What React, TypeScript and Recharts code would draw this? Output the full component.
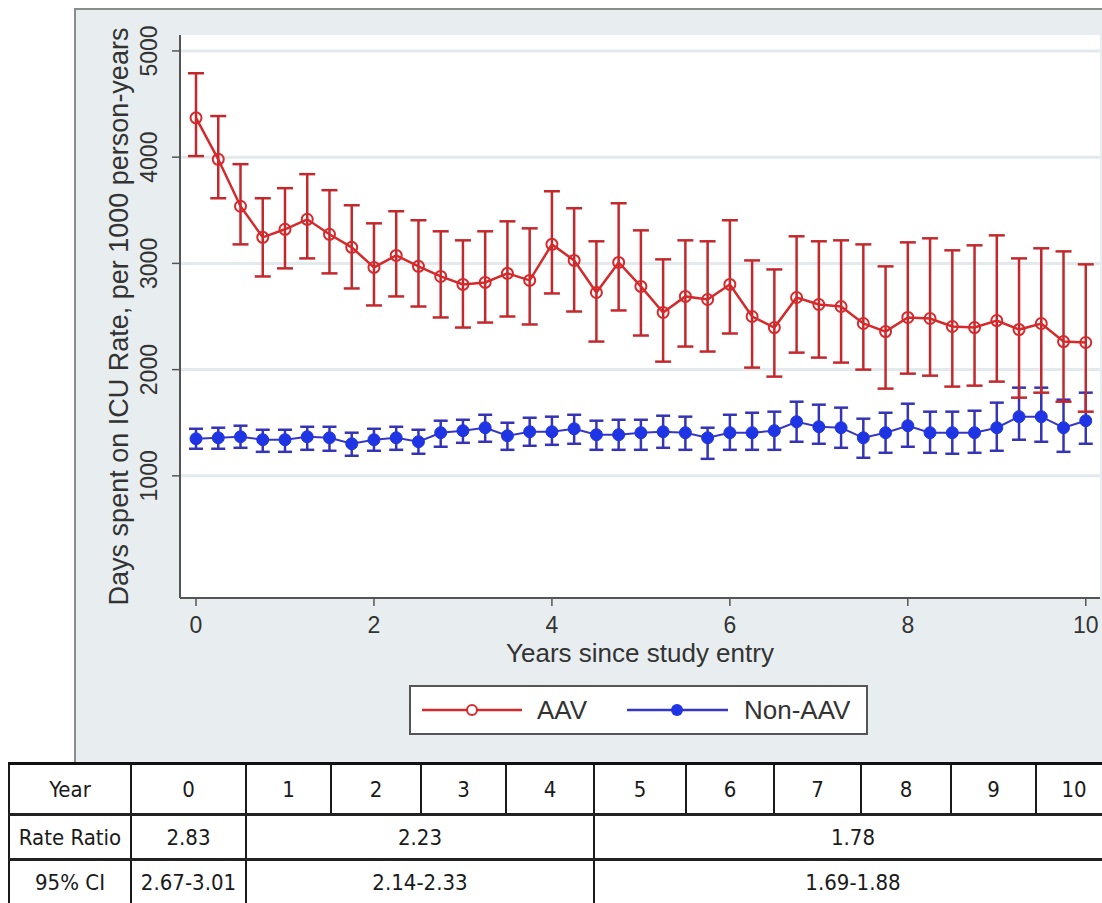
import React from 'react'
import { LineChart, Line, XAxis, YAxis, CartesianGrid, ErrorBar } from 'recharts'

// years since study entry, every quarter year
const years = [
  0, 0.25, 0.5, 0.75, 1, 1.25, 1.5, 1.75, 2, 2.25, 2.5, 2.75, 3, 3.25, 3.5, 3.75, 4, 4.25, 4.5, 4.75,
  5, 5.25, 5.5, 5.75, 6, 6.25, 6.5, 6.75, 7, 7.25, 7.5, 7.75, 8, 8.25, 8.5, 8.75, 9, 9.25, 9.5, 9.75, 10,
]

// AAV: rate and 95% CI
const aavRate = [
  4370, 3980, 3538, 3245, 3321, 3415, 3274, 3151, 2962, 3075, 2972, 2877, 2802, 2821, 2906, 2840, 3179, 3028, 2726, 3009,
  2783, 2538, 2689, 2660, 2802, 2500, 2396, 2679, 2613, 2594, 2434, 2358, 2491, 2481, 2406, 2396, 2462, 2377, 2434, 2264, 2255,
]
const aavLow = [
  4010, 3613, 3179, 2877, 2953, 3047, 2906, 2764, 2604, 2689, 2594, 2491, 2396, 2443, 2500, 2425, 2717, 2547, 2264, 2557,
  2321, 2075, 2217, 2170, 2340, 2019, 1934, 2160, 2113, 2066, 2000, 1821, 1962, 1943, 1840, 1849, 1887, 1736, 1783, 1698, 1604,
]
const aavHigh = [
  4790, 4387, 3934, 3613, 3708, 3840, 3689, 3547, 3377, 3491, 3406, 3302, 3217, 3302, 3396, 3330, 3679, 3519, 3208, 3566,
  3311, 3038, 3217, 3208, 3406, 3028, 2943, 3255, 3208, 3217, 3179, 2972, 3198, 3236, 3123, 3170, 3264, 3047, 3142, 3113, 2991,
]

// Non-AAV: rate and 95% CI
const nonRate = [
  1349, 1358, 1368, 1340, 1340, 1368, 1358, 1302, 1340, 1358, 1321, 1406, 1425, 1453, 1377, 1415, 1415, 1443, 1387, 1387,
  1406, 1415, 1406, 1358, 1406, 1406, 1425, 1509, 1462, 1453, 1358, 1406, 1472, 1406, 1406, 1406, 1453, 1557, 1557, 1453, 1519,
]
const nonLow = [
  1255, 1255, 1264, 1226, 1226, 1245, 1236, 1189, 1236, 1245, 1208, 1274, 1311, 1321, 1245, 1283, 1292, 1302, 1245, 1245,
  1245, 1264, 1245, 1160, 1245, 1245, 1245, 1321, 1302, 1264, 1170, 1217, 1274, 1217, 1208, 1217, 1236, 1340, 1321, 1226, 1302,
]
const nonHigh = [
  1443, 1453, 1472, 1434, 1434, 1462, 1462, 1406, 1443, 1462, 1434, 1519, 1528, 1575, 1500, 1547, 1557, 1575, 1519, 1528,
  1528, 1566, 1557, 1453, 1575, 1594, 1604, 1698, 1670, 1642, 1538, 1594, 1679, 1604, 1604, 1613, 1689, 1830, 1830, 1717, 1783,
]

const yTicks = [1000, 2000, 3000, 4000, 5000]
const xTicks = [0, 2, 4, 6, 8, 10]

// table under the chart
const tableYears = ['0', '1', '2', '3', '4', '5', '6', '7', '8', '9', '10']
const rateRatios = [
  { text: '2.83', span: 1 },
  { text: '2.23', span: 4 },
  { text: '1.78', span: 6 },
]
const rateCIs = [
  { text: '2.67-3.01', span: 1 },
  { text: '2.14-2.33', span: 4 },
  { text: '1.69-1.88', span: 6 },
]

const RED = '#d52a2c'
const RED_BAR = '#c3282d'
const BLUE = '#1f34e2'
const BLUE_LINE = '#3636c6'
const FONT = '"Liberation Sans", Arial, Helvetica, sans-serif'
const TABLE_FONT = '"Liberation Sans Narrow", "DejaVu Sans Condensed", "Open Sans", sans-serif'
const TXT = '#333'

const data = years.map((year, i) => ({
  year,
  aav: aavRate[i],
  aavErr: [aavRate[i] - aavLow[i], aavHigh[i] - aavRate[i]],
  non: nonRate[i],
  nonErr: [nonRate[i] - nonLow[i], nonHigh[i] - nonRate[i]],
}))

const YTick = ({ x, y, payload }: any) => (
  <text
    transform={`translate(${x - 13},${y}) rotate(-90)`}
    textAnchor="middle"
    fontSize={23}
    fontFamily={FONT}
    fill={TXT}
  >
    {payload.value}
  </text>
)

const XTick = ({ x, y, payload }: any) => (
  <text x={x} y={y + 25} textAnchor="middle" fontSize={23} fontFamily={FONT} fill={TXT}>
    {payload.value}
  </text>
)

const YTitle = (props: any) => {
  const vb = props.viewBox || { x: 0, y: 25, width: 104, height: 563 }
  const cy = vb.y + vb.height / 2
  return (
    <text transform={`translate(52,${cy}) rotate(-90)`} textAnchor="middle" fontSize={27} fontFamily={FONT} fill={TXT}>
      Days spent on ICU Rate, per 1000 person-years
    </text>
  )
}

const XTitle = (props: any) => {
  const vb = props.viewBox || { x: 104, y: 588, width: 920, height: 164 }
  return (
    <text x={vb.x + vb.width / 2} y={vb.y + 64} textAnchor="middle" fontSize={26} fontFamily={FONT} fill={TXT}>
      Years since study entry
    </text>
  )
}

function LegendBox() {
  return (
    <div
      style={{
        position: 'absolute',
        left: 333,
        top: 675,
        width: 459,
        height: 50,
        boxSizing: 'border-box',
        background: '#fff',
        border: '2px solid #555',
      }}
    >
      <svg width={455} height={46} style={{ display: 'block' }}>
        <line x1={11} y1={23} x2={111} y2={23} stroke={RED} strokeWidth={2.5} />
        <circle cx={61} cy={23} r={5} fill="#fff" stroke={RED} strokeWidth={2} />
        <text x={126} y={32} fontSize={26} fontFamily={FONT} fill={TXT}>AAV</text>
        <line x1={216} y1={23} x2={317} y2={23} stroke={BLUE_LINE} strokeWidth={2.5} />
        <circle cx={266} cy={23} r={6} fill={BLUE} />
        <text x={333} y={32} fontSize={26} fontFamily={FONT} fill={TXT}>Non-AAV</text>
      </svg>
    </div>
  )
}

const colWidths = [122, 115, 85, 90, 85, 88, 92, 88, 87, 90, 85, 75]

const cell: React.CSSProperties = {
  borderLeft: '2px solid #1a1a1a',
  textAlign: 'center',
  padding: 0,
  color: '#1a1a1a',
}

function RatioTable() {
  return (
    <table
      style={{
        position: 'absolute',
        left: 8,
        top: 762,
        width: 1102,
        tableLayout: 'fixed',
        borderCollapse: 'collapse',
        fontFamily: TABLE_FONT,
        fontSize: 22,
        background: '#fff',
      }}
    >
      <colgroup>
        {colWidths.map((w, i) => (
          <col key={i} style={{ width: w }} />
        ))}
      </colgroup>
      <tbody>
        <tr style={{ height: 51, borderTop: '3px solid #111', borderBottom: '3px solid #222' }}>
          <td style={cell}>Year</td>
          {tableYears.map(y => (
            <td key={y} style={cell}>{y}</td>
          ))}
        </tr>
        <tr style={{ height: 45, borderBottom: '3px solid #222' }}>
          <td style={cell}>Rate Ratio</td>
          {rateRatios.map((r, i) => (
            <td key={i} colSpan={r.span} style={cell}>{r.text}</td>
          ))}
        </tr>
        <tr style={{ height: 45 }}>
          <td style={cell}>95% CI</td>
          {rateCIs.map((r, i) => (
            <td key={i} colSpan={r.span} style={cell}>{r.text}</td>
          ))}
        </tr>
      </tbody>
    </table>
  )
}

export default function App() {
  return (
    <div style={{ position: 'fixed', left: 0, top: 0, width: 1102, height: 903, overflow: 'hidden', background: '#fff' }}>
      <div
        style={{
          position: 'absolute',
          left: 74,
          top: 8,
          width: 1040,
          height: 754,
          boxSizing: 'border-box',
          background: '#e8eef0',
          borderLeft: '2px solid #8c8c8c',
          borderTop: '2px solid #8c8c8c',
        }}
      >
        <LineChart width={1026} height={752} data={data} margin={{ top: 25, right: 2, bottom: 0, left: 0 }}>
          <CartesianGrid vertical={false} fill="#fff" stroke="#e3eaed" strokeWidth={3} horizontalValues={yTicks} />
          <XAxis
            type="number"
            dataKey="year"
            domain={[-0.18, 10.16]}
            ticks={xTicks}
            allowDataOverflow
            height={164}
            tickSize={8}
            tickMargin={2}
            tick={<XTick />}
            axisLine={{ stroke: '#555', strokeWidth: 2 }}
            tickLine={{ stroke: '#555', strokeWidth: 1.5 }}
            label={{ content: <XTitle /> } as any}
          />
          <YAxis
            type="number"
            domain={[-150, 5150]}
            ticks={yTicks}
            allowDataOverflow
            width={104}
            tickSize={8}
            tickMargin={2}
            tick={<YTick />}
            axisLine={{ stroke: '#555', strokeWidth: 2 }}
            tickLine={{ stroke: '#555', strokeWidth: 1.5 }}
            label={{ content: <YTitle /> } as any}
          />
          <Line
            type="linear"
            dataKey="non"
            stroke={BLUE_LINE}
            strokeWidth={2}
            dot={{ r: 6, fill: BLUE, stroke: BLUE, strokeWidth: 1 }}
            activeDot={false}
            isAnimationActive={false}
          >
            <ErrorBar dataKey="nonErr" direction="y" width={7} stroke="#3434b4" strokeWidth={2.5} isAnimationActive={false} />
          </Line>
          <Line
            type="linear"
            dataKey="aav"
            stroke={RED}
            strokeWidth={2.5}
            dot={{ r: 5.5, fill: 'none', stroke: RED, strokeWidth: 2 }}
            activeDot={false}
            isAnimationActive={false}
          >
            <ErrorBar dataKey="aavErr" direction="y" width={8} stroke={RED_BAR} strokeWidth={2.5} isAnimationActive={false} />
          </Line>
        </LineChart>
        <LegendBox />
      </div>
      <RatioTable />
    </div>
  )
}
